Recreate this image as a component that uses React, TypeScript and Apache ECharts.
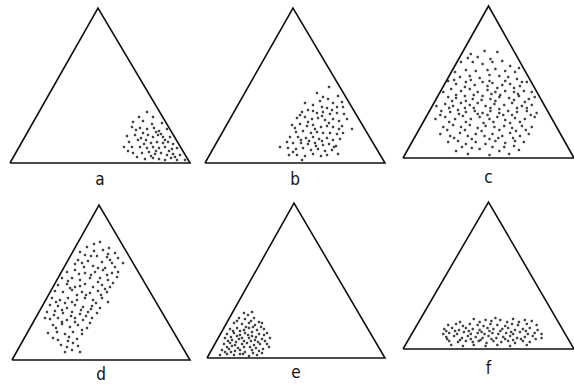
import React, { useEffect, useRef } from "react";
import * as echarts from "echarts";

// Panel labels
const labels = ["a", "b", "c", "d", "e", "f"];

// Dot positions per panel, in triangle units (x along base, y height above base)
const dotsA: number[][] = [
  [137,51],[129,46],[143,46],[123,41],[133,42],[142,39],[152,40],[122,36],[130,35],[137,34],[144,35],[149,32],[157,34],
  [117,27],[125,28],[133,30],[138,28],[143,26],[148,28],[153,26],[160,26],[119,21],[128,23],[136,23],[141,20],[147,21],
  [153,20],[158,21],[163,19],[114,16],[122,16],[130,16],[137,15],[143,16],[149,15],[155,16],[162,14],[167,15],[123,10],
  [132,10],[139,11],[145,9],[151,10],[157,8],[163,9],[170,8],[127,6],[135,4],[143,5],[149,4],[155,3],[161,5],[167,3],
  [175,3],[146,31],[131,25],[155,23],[126,33],[146,12],[159,12],[141,7],[165,6],[151,29],[134,19],[118,12]
];

const dotsB: number[][] = [
  [124,76],[112,70],[118,66],[123,64],[133,67],[128,60],[137,61],[100,60],[108,58],[117,56],[122,55],[132,56],[138,56],
  [97,51],[103,53],[112,50],[118,51],[125,49],[132,50],[139,49],[92,45],[100,46],[107,44],[113,45],[120,43],[128,44],
  [134,42],[142,44],[87,38],[95,39],[102,37],[108,38],[116,36],[122,37],[128,36],[137,37],[147,34],[91,31],[98,32],
  [106,30],[112,31],[118,30],[125,30],[132,29],[138,30],[85,26],[93,26],[101,25],[108,26],[114,24],[122,25],[128,23],
  [135,24],[82,21],[88,20],[96,20],[103,19],[110,20],[118,18],[124,19],[131,17],[75,16],[83,15],[91,14],[98,15],
  [106,13],[113,14],[120,12],[127,13],[133,9],[84,8],[92,8],[100,7],[108,9],[116,7],[122,8],[97,3],
  [115,62],[108,52],[127,53],[95,48],[117,47],[103,41],[124,40],[90,35],[110,34],[134,34],[96,23],[117,22],[88,11],
  [111,17],[129,16],[104,22]
];

const dotsC: number[][] = [
  [69,104],[83,107],[96,106],[76,101],[89,99],[59,96],[71,96],[81,94],[91,96],[101,97],[109,92],[53,86],[64,88],
  [74,87],[86,88],[94,89],[104,87],[114,86],[118,90],[58,81],[68,82],[78,80],[88,83],[98,82],[107,81],[116,79],
  [46,77],[54,74],[64,76],[73,73],[81,76],[91,75],[101,73],[109,74],[119,72],[126,76],[41,66],[49,69],[59,67],
  [68,69],[76,66],[86,68],[94,66],[104,67],[113,66],[123,67],[131,66],[46,61],[54,60],[63,62],[71,59],[81,62],
  [89,59],[98,61],[108,60],[118,62],[128,59],[134,61],[34,52],[43,54],[51,52],[59,55],[68,53],[76,55],[84,52],
  [93,54],[103,53],[111,55],[121,52],[131,53],[39,47],[48,46],[56,48],[64,46],[73,47],[81,45],[89,47],[98,45],
  [107,47],[116,46],[126,47],[136,45],[33,39],[43,41],[53,39],[61,42],[69,39],[78,41],[88,39],[96,41],[104,38],
  [114,40],[124,39],[134,41],[41,31],[51,33],[59,31],[68,33],[76,30],[84,32],[93,31],[103,32],[111,30],[121,32],
  [131,31],[38,24],[48,22],[58,25],[66,22],[74,24],[83,22],[91,24],[101,22],[109,25],[119,22],[128,24],[46,16],
  [56,17],[64,14],[74,16],[84,14],[94,17],[104,15],[114,17],[123,16],[54,7],[66,4],[78,9],[88,3],[98,7],[108,4],
  [118,8],
  [63,71],[86,72],[96,70],[113,70],[54,63],[72,63],[90,64],[99,63],[117,64],[50,57],[64,57],[80,58],[94,57],
  [113,58],[124,56],[47,50],[63,50],[72,50],[89,50],[98,49],[116,50],[126,50],[38,43],[57,44],[76,44],[86,43],
  [102,43],[111,43],[130,43],[47,36],[64,36],[82,35],[92,36],[109,35],[119,36],[45,28],[63,28],[80,27],[98,28],
  [115,27],[125,28],[52,20],[70,19],[88,19],[97,20],[112,20],[60,11],[70,10],[91,11],[103,11],[113,12],[52,78],
  [69,78],[88,77],[104,77],[121,76],[66,100]
];

const dotsD: number[][] = [
  [75,113],[88,118],[97,112],[82,109],[91,110],[103,107],[73,105],[85,104],[95,103],[66,100],[76,99],[90,98],[98,100],
  [106,102],[63,96],[72,93],[81,94],[93,92],[103,93],[111,97],[55,88],[63,90],[73,87],[83,88],[91,90],[100,87],
  [106,88],[50,82],[60,82],[68,80],[78,82],[88,82],[96,80],[105,83],[46,75],[55,76],[63,73],[73,76],[81,73],[90,75],
  [98,73],[43,69],[51,68],[60,70],[70,68],[78,67],[86,69],[95,68],[40,62],[48,60],[56,62],[65,60],[73,62],[81,60],
  [90,62],[38,55],[46,54],[55,52],[63,55],[71,53],[80,54],[88,52],[35,48],[43,49],[51,47],[60,48],[68,46],[76,48],
  [85,47],[38,41],[46,42],[55,40],[63,42],[71,40],[80,42],[41,35],[50,36],[58,33],[66,35],[75,32],[36,27],[45,28],
  [53,26],[61,28],[70,26],[46,20],[56,19],[65,21],[55,13],[66,14],[53,8],[68,8],
  [82,116],[68,108],[96,106],[79,104],[100,97],[70,97],[86,92],[67,86],[95,85],[79,85],[56,79],[86,78],[101,77],
  [68,74],[58,72],[93,71],[65,65],[74,65],[53,57],[60,58],[84,57],[96,58],[44,58],[50,50],[69,50],[79,51],[42,45],
  [59,44],[74,44],[33,42],[50,38],[63,38],[44,32],[70,30],[57,23],[41,22],[61,17],[49,15],[60,10],[78,37],[89,65]
];

const dotsE: number[][] = [
  [37,45],[45,46],[32,40],[38,39],[47,40],[52,36],[27,35],[35,34],[42,35],[48,33],[55,35],[23,29],[30,30],[37,28],
  [42,30],[50,28],[57,29],[20,24],[27,25],[33,23],[38,25],[45,22],[52,24],[60,25],[18,20],[25,18],[32,19],[37,17],
  [42,20],[48,18],[55,19],[63,20],[17,14],[23,15],[28,13],[35,14],[40,15],[47,13],[53,14],[60,14],[15,8],[22,9],
  [28,7],[33,8],[38,6],[45,8],[52,7],[20,4],[27,3],[33,4],[42,2],[50,3],
  [41,43],[30,37],[39,31],[46,31],[33,27],[45,26],[54,31],[24,21],[30,22],[41,23],[49,21],[57,23],[21,17],[29,16],
  [35,20],[44,17],[51,16],[58,17],[20,11],[25,12],[31,10],[37,11],[43,11],[49,10],[56,9],[18,6],[24,6],[36,4],[46,5],
  [55,5],[26,27],[44,37],[62,11],[13,3]
];

const dotsF: number[][] = [
  [72,30],[84,29],[94,31],[99,29],[112,30],[124,29],
  [46,24],[54,25],[61,23],[68,25],[76,24],[82,23],[89,25],[96,24],[104,23],[111,25],[117,24],[126,25],[136,24],
  [42,20],[50,21],[57,19],[64,21],[71,20],[78,19],[86,21],[92,20],[101,20],[107,21],[114,19],[122,20],[129,21],
  [41,15],[47,16],[55,15],[62,17],[69,15],[76,16],[83,15],[91,16],[97,15],[105,16],[112,15],[119,17],[127,15],[134,16],[141,15],
  [44,12],[52,13],[60,11],[66,13],[74,12],[81,11],[87,13],[95,11],[102,12],[109,13],[116,11],[124,12],[132,13],
  [47,8],[56,7],[64,8],[71,7],[77,8],[85,6],[92,8],[100,7],[107,8],[114,6],[122,8],[129,7],
  [49,4],[61,3],[72,4],[84,3],[96,4],[109,3],[126,4],
  [58,27],[78,27],[90,28],[106,27],[118,27],[131,28],
  [44,18],[53,18],[67,18],[80,17],[88,18],[99,18],[110,17],[125,18],[137,19],
  [45,10],[58,9],[69,10],[79,9],[90,10],[104,10],[112,9],[120,10],[135,10],[141,11]
];

const dotSets = [dotsA, dotsB, dotsC, dotsD, dotsE, dotsF];

// Layout of each triangle panel (pixels): base-left x, apex top y, base width, height, apex offset, label gap
const layout = [
  { left: 10, top: 8, w: 180, h: 155, apex: 88, gap: 7 },
  { left: 205, top: 8, w: 180, h: 155, apex: 88, gap: 7 },
  { left: 403, top: 6, w: 174, h: 152, apex: 87, gap: 10 },
  { left: 12, top: 205, w: 178, h: 155, apex: 87, gap: 5 },
  { left: 207, top: 203, w: 178, h: 155, apex: 87, gap: 5 },
  { left: 403, top: 202, w: 174, h: 147, apex: 87, gap: 10 },
];

export default function App() {
  const ref = useRef<HTMLDivElement>(null);
  useEffect(() => {
    if (!ref.current) return;
    const chart = echarts.init(ref.current, undefined, { renderer: "svg" });
    const grid: any[] = [];
    const xAxis: any[] = [];
    const yAxis: any[] = [];
    const series: any[] = [];
    layout.forEach((p, i) => {
      grid.push({ left: p.left, top: p.top, width: p.w, height: p.h, containLabel: false });
      xAxis.push({
        type: "value", gridIndex: i, min: 0, max: p.w,
        axisLine: { show: false }, axisTick: { show: false }, axisLabel: { show: false },
        splitLine: { show: false },
        name: labels[i], nameLocation: "middle", nameGap: p.gap,
        nameTextStyle: { fontSize: 17, color: "#111", fontFamily: "'Liberation Sans Narrow', 'DejaVu Sans Condensed', 'Liberation Sans', sans-serif" },
      });
      yAxis.push({ type: "value", gridIndex: i, min: 0, max: p.h, show: false });
      series.push({
        type: "line", xAxisIndex: i, yAxisIndex: i, symbol: "none", silent: true, clip: false,
        data: [[0, 0], [p.apex, p.h], [p.w, 0], [0, 0]],
        lineStyle: { color: "#111", width: 1.6, join: "miter" },
      });
      series.push({
        type: "scatter", xAxisIndex: i, yAxisIndex: i, clip: false, silent: true,
        data: dotSets[i], symbolSize: 2.6, itemStyle: { color: "#111" },
      });
    });
    chart.setOption({ animation: false, backgroundColor: "#fff", grid, xAxis, yAxis, series });
    return () => chart.dispose();
  }, []);
  return <div ref={ref} style={{ position: "absolute", left: 0, top: 0, width: 574, height: 384 }} />;
}
